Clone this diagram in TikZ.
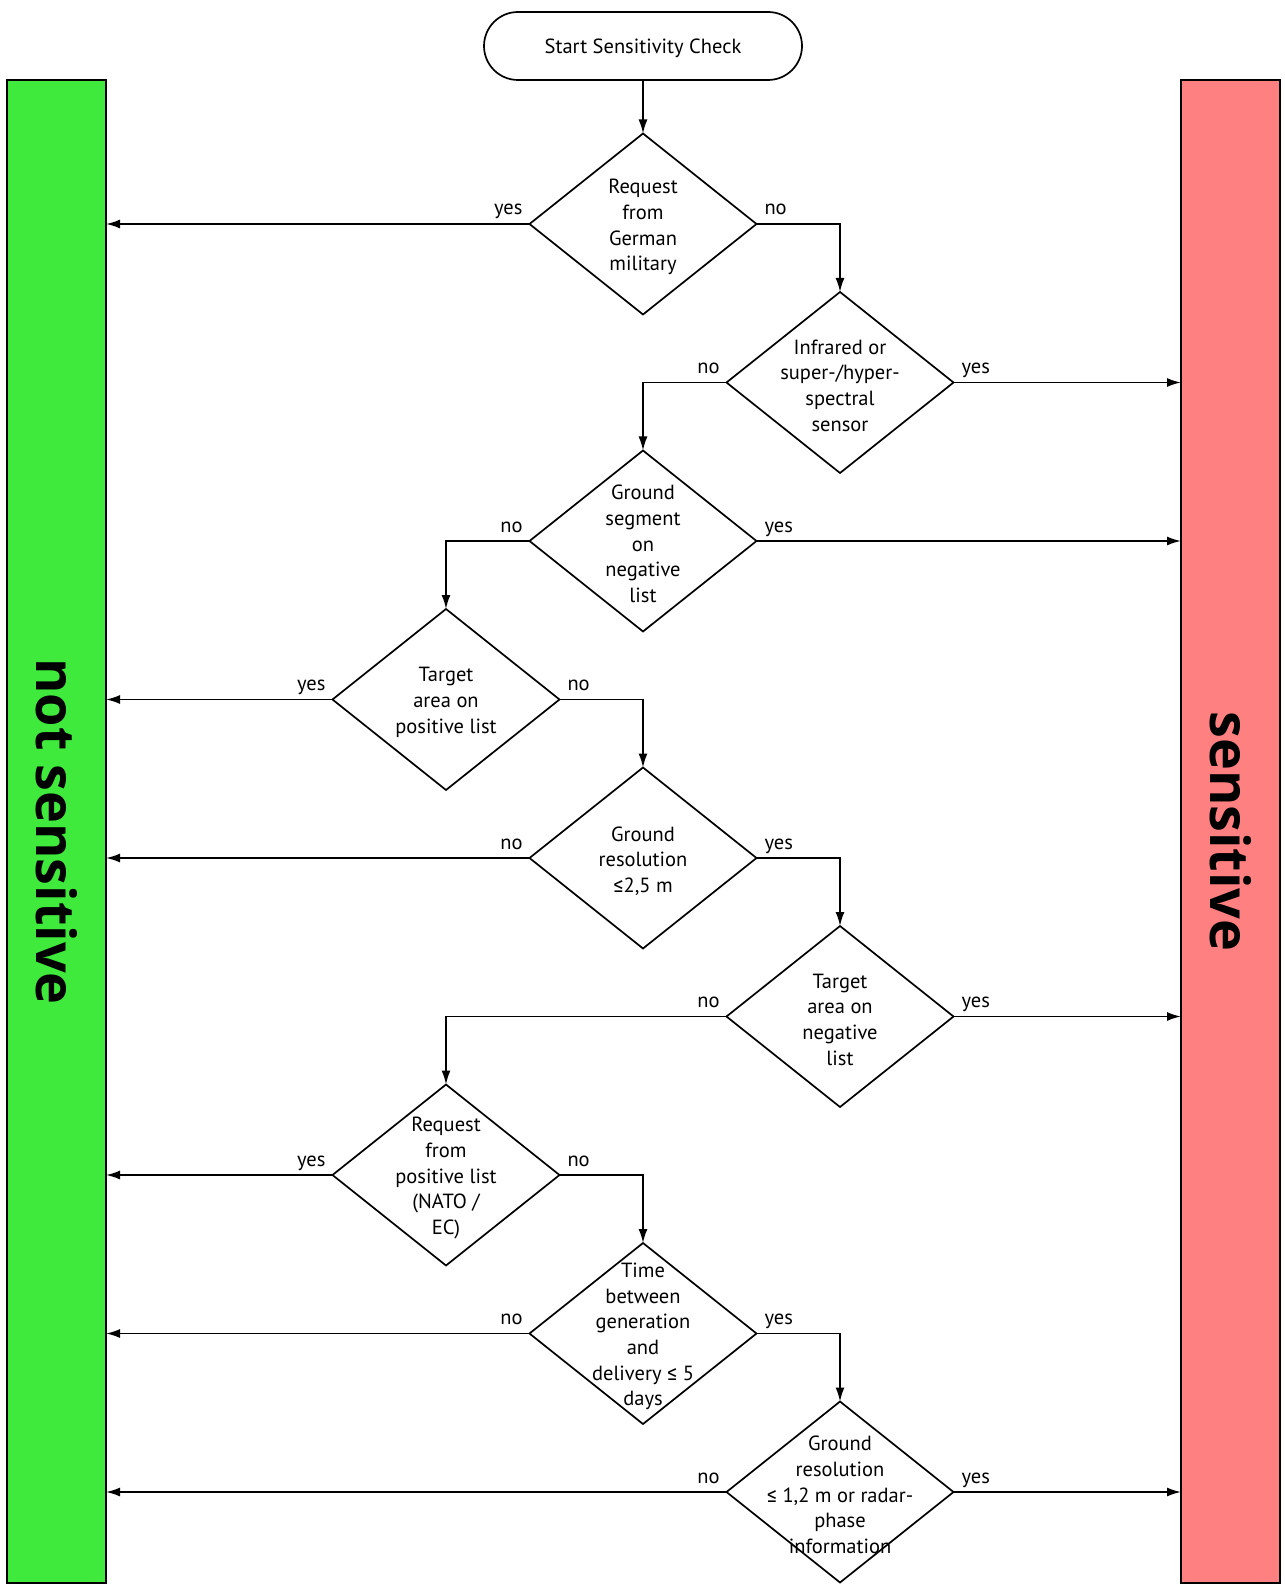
\documentclass[tikz,border=0pt]{standalone}
\usepackage{fontspec}
\setmainfont{PT Sans}
\newfontfamily\barfont{Open Sans}
\newfontfamily\relfont{Fira Sans}
\newcommand{\lesym}{{\relfont ≤}}
\usetikzlibrary{shapes.geometric,arrows.meta}

\begin{document}
\begin{tikzpicture}[x=0.5pt,y=-0.5pt,
  every node/.style={inner sep=0pt,outer sep=0pt},
  ln/.style={line width=0.85pt},
  dia/.style={ln,draw,diamond,minimum width=113.5pt,minimum height=90.5pt,fill=white},
  txt/.style={align=center,font=\fontsize{10.25}{12.85}\selectfont,yshift=-1.5pt},
  lab/.style={font=\fontsize{10.25}{12.85}\selectfont},
  arr/.style={ln,-{Latex[length=7pt,width=4.5pt]}},
  bar/.style={ln,draw,minimum width=49.5pt,minimum height=751.5pt},
  bartxt/.style={rotate=-90,font=\barfont\bfseries\fontsize{27}{30}\selectfont}
]
\definecolor{okgreen}{RGB}{64,234,60}
\definecolor{badred}{RGB}{255,128,128}

\useasboundingbox (0,0) rectangle (1284,1593);

% outcome bars
\node[bar,fill=okgreen] (nsbar) at (56.5,831.5) {};
\node[bartxt] (nstxt) at (nsbar.center) {not sensitive};
\node[bar,fill=badred] (sbar) at (1230.5,831.5) {};
\node[bartxt] (stxt) at (sbar.center) {sensitive};

% start
\node[ln,draw,rounded corners=17pt,minimum width=159pt,minimum height=34pt,text depth=0pt,font=\fontsize{10.25}{12.85}\selectfont]
  (start) at (643,46) {Start Sensitivity Check};

% decisions
\node[dia] (d1) at (643,224) {};
\node[txt] (t1) at (d1) {Request\\from\\German\\military};
\node[dia] (d2) at (840,382.5) {};
\node[txt] (t2) at (d2) {Infrared or\\super-/hyper-\\spectral\\sensor};
\node[dia] (d3) at (643,541) {};
\node[txt] (t3) at (d3) {Ground\\segment\\on\\negative\\list};
\node[dia] (d4) at (446,699.5) {};
\node[txt] (t4) at (d4) {Target\\area on\\positive list};
\node[dia] (d5) at (643,858) {};
\node[txt] (t5) at (d5) {Ground\\resolution\\\lesym2,5 m};
\node[dia] (d6) at (840,1016.5) {};
\node[txt] (t6) at (d6) {Target\\area on\\negative\\list};
\node[dia] (d7) at (446,1175) {};
\node[txt] (t7) at (d7) {Request\\from\\positive list\\(NATO /\\EC)};
\node[dia] (d8) at (643,1333.5) {};
\node[txt] (t8) at (d8) {Time\\between\\generation\\and\\delivery \lesym{} 5\\days};
\node[dia] (d9) at (840,1492) {};
\node[txt] (t9) at (d9) {Ground\\resolution\\\lesym{} 1,2 m or radar-\\phase\\information};

% connectors
\draw[arr] (start.south) -- (d1.north);

\draw[arr] (d1.west) -- (d1.west -| nsbar.east);
\node[lab,anchor=base east] (l1a) at ([xshift=-3.5pt,yshift=4.5pt]d1.west) {yes};
\draw[arr] (d1.east) -| (d2.north);
\node[lab,anchor=base west] (l1b) at ([xshift=4pt,yshift=4.5pt]d1.east) {no};

\draw[arr] (d2.west) -| (d3.north);
\node[lab,anchor=base east] (l2a) at ([xshift=-3.5pt,yshift=4.5pt]d2.west) {no};
\draw[arr] (d2.east) -- (d2.east -| sbar.west);
\node[lab,anchor=base west] (l2b) at ([xshift=4pt,yshift=4.5pt]d2.east) {yes};

\draw[arr] (d3.west) -| (d4.north);
\node[lab,anchor=base east] (l3a) at ([xshift=-3.5pt,yshift=4.5pt]d3.west) {no};
\draw[arr] (d3.east) -- (d3.east -| sbar.west);
\node[lab,anchor=base west] (l3b) at ([xshift=4pt,yshift=4.5pt]d3.east) {yes};

\draw[arr] (d4.west) -- (d4.west -| nsbar.east);
\node[lab,anchor=base east] (l4a) at ([xshift=-3.5pt,yshift=4.5pt]d4.west) {yes};
\draw[arr] (d4.east) -| (d5.north);
\node[lab,anchor=base west] (l4b) at ([xshift=4pt,yshift=4.5pt]d4.east) {no};

\draw[arr] (d5.west) -- (d5.west -| nsbar.east);
\node[lab,anchor=base east] (l5a) at ([xshift=-3.5pt,yshift=4.5pt]d5.west) {no};
\draw[arr] (d5.east) -| (d6.north);
\node[lab,anchor=base west] (l5b) at ([xshift=4pt,yshift=4.5pt]d5.east) {yes};

\draw[arr] (d6.west) -| (d7.north);
\node[lab,anchor=base east] (l6a) at ([xshift=-3.5pt,yshift=4.5pt]d6.west) {no};
\draw[arr] (d6.east) -- (d6.east -| sbar.west);
\node[lab,anchor=base west] (l6b) at ([xshift=4pt,yshift=4.5pt]d6.east) {yes};

\draw[arr] (d7.west) -- (d7.west -| nsbar.east);
\node[lab,anchor=base east] (l7a) at ([xshift=-3.5pt,yshift=4.5pt]d7.west) {yes};
\draw[arr] (d7.east) -| (d8.north);
\node[lab,anchor=base west] (l7b) at ([xshift=4pt,yshift=4.5pt]d7.east) {no};

\draw[arr] (d8.west) -- (d8.west -| nsbar.east);
\node[lab,anchor=base east] (l8a) at ([xshift=-3.5pt,yshift=4.5pt]d8.west) {no};
\draw[arr] (d8.east) -| (d9.north);
\node[lab,anchor=base west] (l8b) at ([xshift=4pt,yshift=4.5pt]d8.east) {yes};

\draw[arr] (d9.west) -- (d9.west -| nsbar.east);
\node[lab,anchor=base east] (l9a) at ([xshift=-3.5pt,yshift=4.5pt]d9.west) {no};
\draw[arr] (d9.east) -- (d9.east -| sbar.west);
\node[lab,anchor=base west] (l9b) at ([xshift=4pt,yshift=4.5pt]d9.east) {yes};
\end{tikzpicture}
\end{document}
